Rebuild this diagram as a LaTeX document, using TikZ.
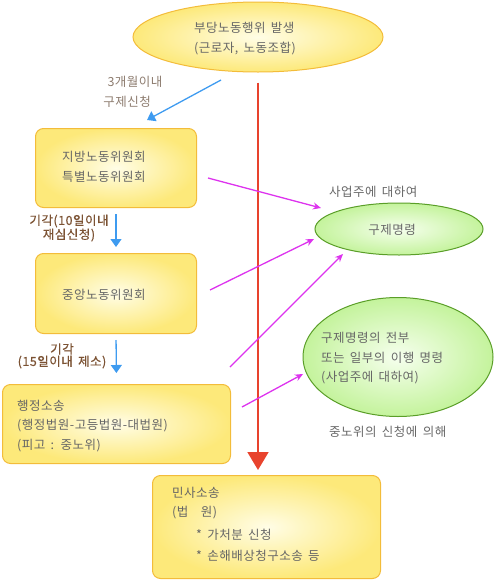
\documentclass[tikz,border=0pt]{standalone}
\usepackage{fontspec}
\setmainfont[LetterSpace=4,WordSpace=1.6]{Noto Sans CJK KR}
\newfontfamily\lblfont[FakeBold=0.6,LetterSpace=4,WordSpace=1.6]{Noto Sans CJK KR}
\usetikzlibrary{shapes.geometric,arrows.meta}
\definecolor{yin}{HTML}{FFFDE6}
\definecolor{yout}{HTML}{FDE97A}
\definecolor{ybord}{HTML}{F3BC3A}
\definecolor{gin}{HTML}{F6FFEE}
\definecolor{gout}{HTML}{C4F39C}
\definecolor{gbord}{HTML}{5A9E28}
\definecolor{tgray}{HTML}{666666}
\definecolor{lgray}{HTML}{8C7B6E}
\definecolor{lbrown}{HTML}{7B5233}
\definecolor{barrow}{HTML}{3E9BF0}
\definecolor{mag}{HTML}{DD33EE}
\definecolor{rline}{HTML}{E8432D}
\begin{document}
\begin{tikzpicture}[x=1pt,y=-1pt,
  font=\fontsize{12.5}{14}\selectfont,
  ybox/.style={draw=ybord, line width=1pt, rounded corners=8pt, inner color=yin, outer color=yout, anchor=north west, inner sep=0pt},
  yell/.style={ellipse, draw=ybord, line width=1pt, inner color=yin, outer color=yout, inner sep=0pt},
  gell/.style={ellipse, draw=gbord, line width=1pt, inner color=gin, outer color=gout, inner sep=0pt},
  txt/.style={inner sep=0pt, text=tgray, anchor=west},
  ctxt/.style={inner sep=0pt, text=tgray},
  lbl/.style={inner sep=0pt, text=lgray},
  blbl/.style={inner sep=0pt, text=lbrown, font=\fontsize{12.5}{14}\lblfont},
  bluearrow/.style={draw=barrow, line width=1.3pt, -{Triangle[width=11pt,length=8pt]}},
  magarrow/.style={draw=mag, line width=1.3pt, -{Stealth[width=7pt,length=8pt]}},
  redarrow/.style={draw=rline, line width=1.8pt, -{Triangle[width=21pt,length=18pt,fill=rline]}}
]
\useasboundingbox (0,0) rectangle (495,581);

% shapes
\node[yell, minimum width=250pt, minimum height=70pt] (top) at (258,37) {};
\node[ybox, minimum width=161pt, minimum height=79pt] (b1) at (35,128) {};
\node[ybox, minimum width=161pt, minimum height=80pt] (b2) at (35,253) {};
\node[ybox, minimum width=228pt, minimum height=79pt] (b3) at (2,384) {};
\node[ybox, minimum width=228pt, minimum height=103pt] (b4) at (152,475) {};
\node[gell, minimum width=168pt, minimum height=52pt] (g1) at (399,229) {};
\node[gell, minimum width=190pt, minimum height=119pt] (g2) at (398,357) {};

% red main line
\draw[redarrow, shorten <=10pt, shorten >=5pt] (top.south) -- (top.south |- b4.north);

% blue arrows
\coordinate (a1s) at (221,80);
\coordinate (a1e) at (147,120);
\draw[bluearrow] (a1s) -- (a1e);
\draw[bluearrow, shorten <=6pt, shorten >=6pt] (b1.south) -- (b2.north);
\draw[bluearrow, shorten <=6pt, shorten >=11pt] (b2.south) -- (b3.north);

% magenta arrows
\coordinate (m1s) at (208,178); \coordinate (m1e) at (321,208);
\coordinate (m2s) at (210,290); \coordinate (m2e) at (314,239);
\coordinate (m3s) at (230,367); \coordinate (m3e) at (343,254);
\coordinate (m4s) at (242,407); \coordinate (m4e) at (303,374);
\draw[magarrow] (m1s) -- (m1e);
\draw[magarrow] (m2s) -- (m2e);
\draw[magarrow] (m3s) -- (m3e);
\draw[magarrow] (m4s) -- (m4e);

% texts
\node[txt] (t1) at (194,28) {부당노동행위 발생};
\node[txt] (t2) at (194,49) {(근로자, 노동조합)};
\node[lbl] (l1) at (135,82) {3개월이내};
\node[lbl] (l2) at (127,102) {구제신청};
\node[txt] (t3) at (62,157) {지방노동위원회};
\node[txt] (t4) at (62,177) {특별노동위원회};
\node[blbl] (l3) at (69,221) {기각(10일이내};
\node[blbl] (l4) at (69,235) {재심신청)};
\node[txt] (t5) at (62,295) {중앙노동위원회};
\node[blbl] (l5) at (62,349) {기각};
\node[blbl] (l6) at (62,362) {(15일이내 제소)};
\node[txt] (t6) at (17,406) {행정소송};
\node[txt] (t7) at (17,426) {(행정법원-고등법원-대법원)};
\node[txt] (t8) at (17,446) {(피고 : 중노위)};
\node[txt] (t9) at (172,493) {민사소송};
\node[txt] (t10) at (172,513) {(법\hspace{1em}원)};
\node[txt] (t11) at (196,535) {* 가처분 신청};
\node[txt] (t12) at (196,556) {* 손해배상청구소송 등};
\node[txt] (t13) at (329,192) {사업주에 대하여};
\node[ctxt] (t14) at (392,230) {구제명령};
\node[txt] (t15) at (321,338) {구제명령의 전부};
\node[txt] (t16) at (321,358) {또는 일부의 이행 명령};
\node[txt] (t17) at (321,378) {(사업주에 대하여)};
\node[txt] (t18) at (329,432) {중노위의 신청에 의해};
\end{tikzpicture}
\end{document}
